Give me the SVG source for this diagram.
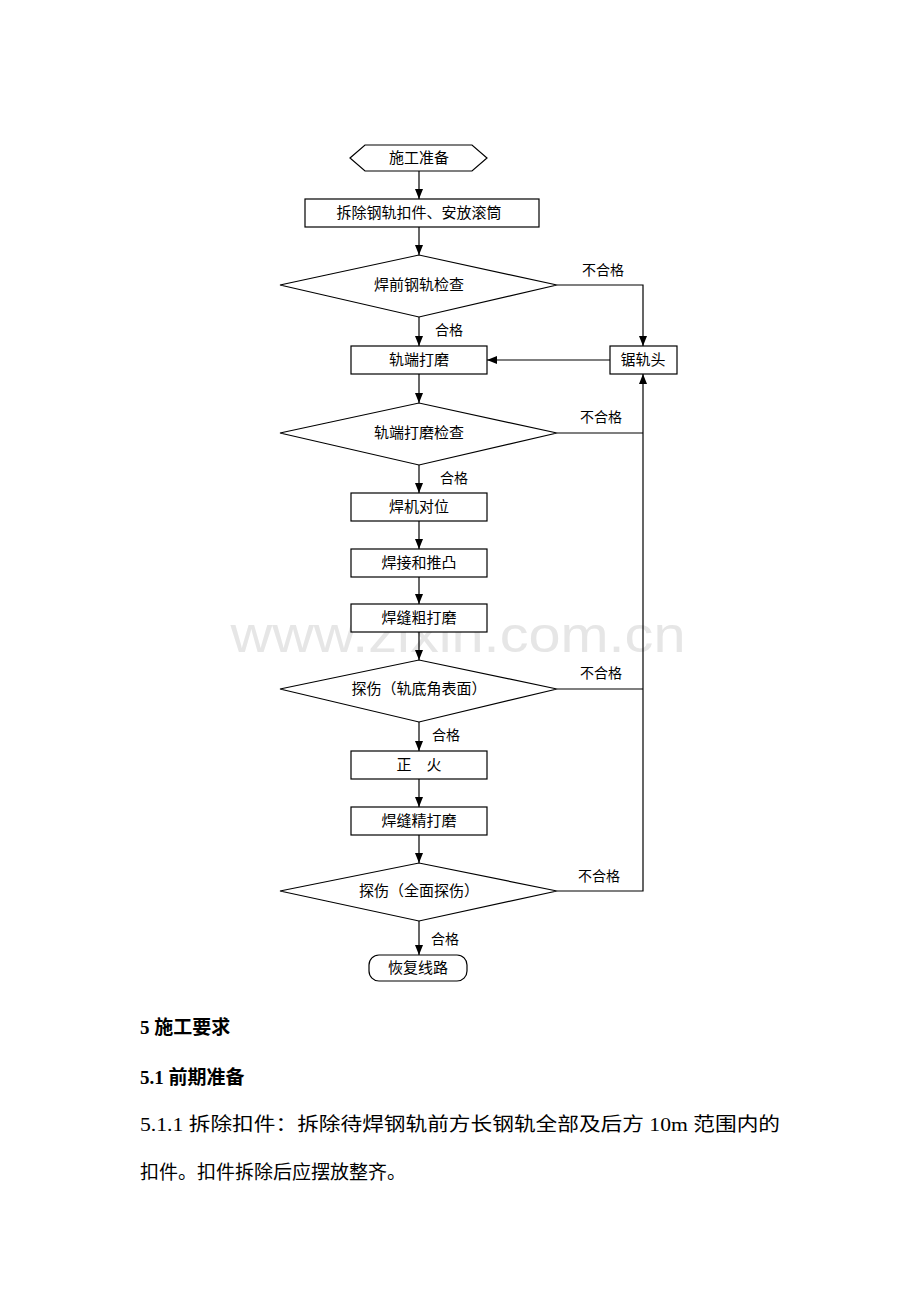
<svg xmlns="http://www.w3.org/2000/svg" width="920" height="1302" viewBox="0 0 920 1302">
<style>
.s{fill:#fff;stroke:#000;stroke-width:1.2}
.t{font-family:"Liberation Serif","Noto Sans CJK SC",serif;font-size:15px;text-anchor:middle;fill:#000}
.l{font-family:"Liberation Serif","Noto Sans CJK SC",serif;font-size:14px;fill:#000}
.c{fill:none;stroke:#000;stroke-width:1.2}
.b{font-family:"Liberation Serif","Noto Sans CJK SC",serif;fill:#000}
</style>
<defs><marker id="a" markerWidth="10" markerHeight="8" refX="10" refY="4" orient="auto" markerUnits="userSpaceOnUse"><path d="M0,0 L10,4 L0,8 z" fill="#000"/></marker></defs>
<rect width="920" height="1302" fill="#fff"/>
<text x="458" y="652" font-family="Liberation Sans,sans-serif" font-size="50" fill="#e6e6e6" text-anchor="middle" textLength="455" lengthAdjust="spacingAndGlyphs">www.zixin.com.cn</text>
<g id="connectors">
<line class="c" x1="419" y1="171" x2="419" y2="199" marker-end="url(#a)"/>
<line class="c" x1="419" y1="227" x2="419" y2="255" marker-end="url(#a)"/>
<line class="c" x1="419" y1="317" x2="419" y2="346" marker-end="url(#a)"/>
<line class="c" x1="419" y1="374" x2="419" y2="403" marker-end="url(#a)"/>
<line class="c" x1="419" y1="465" x2="419" y2="493" marker-end="url(#a)"/>
<line class="c" x1="419" y1="521" x2="419" y2="549" marker-end="url(#a)"/>
<line class="c" x1="419" y1="577" x2="419" y2="604" marker-end="url(#a)"/>
<line class="c" x1="419" y1="632" x2="419" y2="660" marker-end="url(#a)"/>
<line class="c" x1="419" y1="722" x2="419" y2="751" marker-end="url(#a)"/>
<line class="c" x1="419" y1="779" x2="419" y2="807" marker-end="url(#a)"/>
<line class="c" x1="419" y1="835" x2="419" y2="863" marker-end="url(#a)"/>
<line class="c" x1="419" y1="921" x2="419" y2="955" marker-end="url(#a)"/>
<polyline class="c" points="557,285 643,285 643,346" marker-end="url(#a)"/>
<line class="c" x1="610" y1="360" x2="487" y2="360" marker-end="url(#a)"/>
<polyline class="c" points="557,891 643,891 643,374" marker-end="url(#a)"/>
<line class="c" x1="557" y1="433" x2="643" y2="433"/>
<line class="c" x1="557" y1="689" x2="643" y2="689"/>
<text class="l" x="582" y="275">不合格</text>
<text class="l" x="580" y="422">不合格</text>
<text class="l" x="580" y="678">不合格</text>
<text class="l" x="578" y="881">不合格</text>
<text class="l" x="435" y="335">合格</text>
<text class="l" x="440" y="483">合格</text>
<text class="l" x="432" y="740">合格</text>
<text class="l" x="431" y="944">合格</text>
</g>
<g id="n1"><polygon class="s" points="350,158 365,145 472,145 487,158 472,171 365,171"/><text class="t" x="419" y="163">施工准备</text></g>
<g id="n2"><rect class="s" x="305" y="199" width="234" height="28"/><text class="t" x="419" y="218">拆除钢轨扣件、安放滚筒</text></g>
<g id="n3"><polygon class="s" points="280,285 419,255 557,285 419,317"/><text class="t" x="419" y="290">焊前钢轨检查</text></g>
<g id="n4"><rect class="s" x="351" y="346" width="136" height="28"/><text class="t" x="419" y="365">轨端打磨</text></g>
<g id="n5"><rect class="s" x="610" y="346" width="67" height="28"/><text class="t" x="643" y="365">锯轨头</text></g>
<g id="n6"><polygon class="s" points="280,433 419,403 557,433 419,465"/><text class="t" x="419" y="438">轨端打磨检查</text></g>
<g id="n7"><rect class="s" x="351" y="493" width="136" height="28"/><text class="t" x="419" y="512">焊机对位</text></g>
<g id="n8"><rect class="s" x="351" y="549" width="136" height="28"/><text class="t" x="419" y="568">焊接和推凸</text></g>
<g id="n9"><rect class="s" x="351" y="604" width="136" height="28"/><text class="t" x="419" y="623">焊缝粗打磨</text></g>
<g id="n10"><polygon class="s" points="280,689 419,660 557,689 419,722"/><text class="t" x="419" y="694">探伤（轨底角表面）</text></g>
<g id="n11"><rect class="s" x="351" y="751" width="136" height="28"/><text class="t" x="419" y="770" xml:space="preserve">正　火</text></g>
<g id="n12"><rect class="s" x="351" y="807" width="136" height="28"/><text class="t" x="419" y="826">焊缝精打磨</text></g>
<g id="n13"><polygon class="s" points="280,891 419,863 557,891 419,921"/><text class="t" x="419" y="896">探伤（全面探伤）</text></g>
<g id="n14"><rect class="s" x="369" y="955" width="98" height="26" rx="10"/><text class="t" x="418" y="973">恢复线路</text></g>
<text class="b" x="140" y="1034" font-size="19" font-weight="bold">5 施工要求</text>
<text class="b" x="140" y="1084" font-size="19" font-weight="bold">5.1 前期准备</text>
<text class="b" x="140" y="1131" font-size="19" textLength="640" lengthAdjust="spacingAndGlyphs">5.1.1 拆除扣件：拆除待焊钢轨前方长钢轨全部及后方 10m 范围内的</text>
<text class="b" x="140" y="1179" font-size="19">扣件。扣件拆除后应摆放整齐。</text>
</svg>
